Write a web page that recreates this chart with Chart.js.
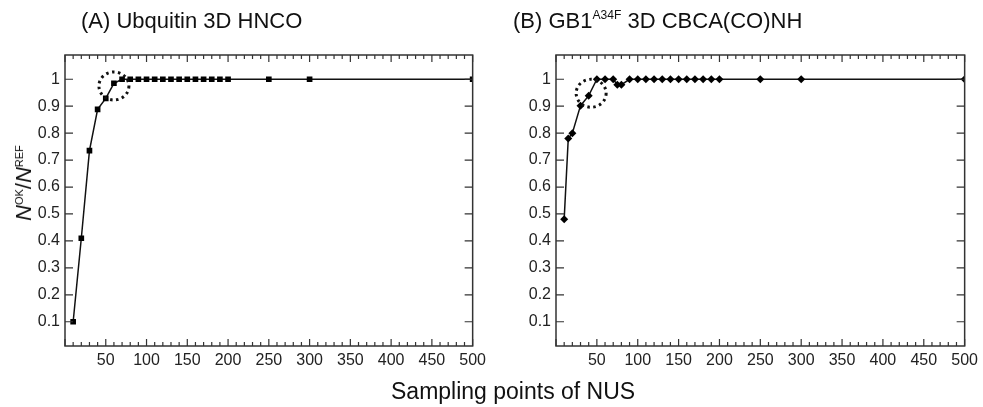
<!DOCTYPE html>
<html>
<head>
<meta charset="utf-8">
<script src="https://cdn.jsdelivr.net/npm/chart.js@4.4.1/dist/chart.umd.min.js"></script>
<style>
  body { margin: 0; background: #fff; font-family: "Liberation Sans", Arial, sans-serif; }
  #wrap { position: relative; width: 983px; height: 407px; overflow: hidden; }
  canvas { position: absolute; top: 0; }
  .t { position: absolute; color: #111; white-space: nowrap; }
  sup { font-size: 0.55em; vertical-align: 0.75em; line-height: 0; }
  .ylab sup { font-size: 0.5em; }
</style>
</head>
<body>
<div id="wrap">
  <canvas id="chartA" width="491" height="407" style="left:0"></canvas>
  <canvas id="chartB" width="492" height="407" style="left:491px"></canvas>
  <div class="t" style="left:81px; top:8px; font-size:22px;">(A) Ubquitin 3D HNCO</div>
  <div class="t" style="left:513px; top:8px; font-size:22px;">(B) GB1<sup>A34F</sup> 3D CBCA(CO)NH</div>
  <div class="t" style="left:391px; top:378px; font-size:23px;">Sampling points of NUS</div>
  <div class="t ylab" style="left:24px; top:183px; font-size:22px; transform: translate(-50%, -50%) rotate(-90deg);"><i>N</i><sup>OK</sup>/<i>N</i><sup>REF</sup></div>
</div>
<script>
// Panel A: Ubiquitin 3D HNCO
const samplesA = [10, 20, 30, 40, 50, 60, 70, 80, 90, 100, 110, 120, 130, 140, 150, 160, 170, 180, 190, 200, 250, 300, 500];
const ratioA = [0.10, 0.41, 0.735, 0.888, 0.929, 0.985, 1, 1, 1, 1, 1, 1, 1, 1, 1, 1, 1, 1, 1, 1, 1, 1, 1];

// Panel B: GB1 A34F 3D CBCA(CO)NH
const samplesB = [10, 15, 20, 30, 40, 50, 60, 70, 75, 80, 90, 100, 110, 120, 130, 140, 150, 160, 170, 180, 190, 200, 250, 300, 500];
const ratioB = [0.48, 0.78, 0.80, 0.902, 0.939, 1, 1, 1, 0.98, 0.98, 1, 1, 1, 1, 1, 1, 1, 1, 1, 1, 1, 1, 1, 1, 1];

const yTickValues = [0.1, 0.2, 0.3, 0.4, 0.5, 0.6, 0.7, 0.8, 0.9, 1];

// frame with inward ticks on every side + dotted ring around a highlighted point
const frameTicks = {
    id: 'frameTicks',
    afterDatasetsDraw(chart, args, opts) {
        const ctx = chart.ctx;
        const a = chart.chartArea;
        const x = chart.scales.x, y = chart.scales.y;
        ctx.save();
        ctx.strokeStyle = '#333';
        ctx.lineWidth = 1.5;
        ctx.strokeRect(a.left, a.top, a.right - a.left, a.bottom - a.top);
        ctx.lineWidth = 1.2;
        ctx.beginPath();
        for (let v = 0; v <= 500; v += 10) {
            const px = x.getPixelForValue(v);
            const len = v % 50 === 0 ? 7 : 4;
            ctx.moveTo(px, a.bottom); ctx.lineTo(px, a.bottom - len);
            ctx.moveTo(px, a.top); ctx.lineTo(px, a.top + len);
        }
        yTickValues.forEach(v => {
            const py = y.getPixelForValue(v);
            ctx.moveTo(a.left, py); ctx.lineTo(a.left + 8, py);
            ctx.moveTo(a.right, py); ctx.lineTo(a.right - 8, py);
        });
        ctx.stroke();

        const c = opts.circle;
        if (c) {
            ctx.beginPath();
            ctx.strokeStyle = '#111';
            ctx.lineWidth = 3;
            ctx.setLineDash([2.5, 3.5]);
            ctx.ellipse(x.getPixelForValue(c.x), y.getPixelForValue(c.y), c.rx, c.ry, 0, 0, Math.PI * 2);
            ctx.stroke();
        }
        ctx.restore();
    }
};

function makePanel(id, xs, ys, pointStyle, radius, circle, rightPad) {
    return new Chart(document.getElementById(id), {
        type: 'line',
        data: {
            datasets: [{
                data: xs.map((v, i) => ({x: v, y: ys[i]})),
                borderColor: '#111',
                backgroundColor: '#000',
                borderWidth: 1.5,
                pointStyle: pointStyle,
                pointRadius: radius,
                pointBorderWidth: 0,
                tension: 0
            }]
        },
        options: {
            responsive: false,
            animation: false,
            layout: { padding: { top: 55, right: rightPad, left: 0, bottom: 0 } },
            plugins: {
                legend: { display: false },
                tooltip: { enabled: false },
                frameTicks: { circle: circle }
            },
            scales: {
                x: {
                    type: 'linear',
                    min: 0,
                    max: 500,
                    grid: { display: false, drawTicks: false },
                    border: { display: false },
                    afterFit: s => { s.height = 61; },
                    ticks: {
                        stepSize: 50,
                        padding: 5,
                        maxRotation: 0,
                        autoSkip: false,
                        color: '#222',
                        font: { family: 'Liberation Sans', size: 16 },
                        callback: v => (v === 0 ? '' : v)
                    }
                },
                y: {
                    min: 0.01,
                    max: 1.09,
                    grid: { display: false, drawTicks: false },
                    border: { display: false },
                    afterFit: s => { s.width = 65; },
                    afterBuildTicks: s => { s.ticks = yTickValues.map(v => ({value: v})); },
                    ticks: {
                        padding: 5,
                        color: '#222',
                        font: { family: 'Liberation Sans', size: 16 },
                        callback: v => String(Number(v.toFixed(1)))
                    }
                }
            }
        },
        plugins: [frameTicks]
    });
}

makePanel('chartA', samplesA, ratioA, 'rect', 4, {x: 60, y: 0.975, rx: 15, ry: 14}, 10);
makePanel('chartB', samplesB, ratioB, 'rectRot', 4, {x: 43, y: 0.948, rx: 15, ry: 14}, 11);
</script>
</body>
</html>
